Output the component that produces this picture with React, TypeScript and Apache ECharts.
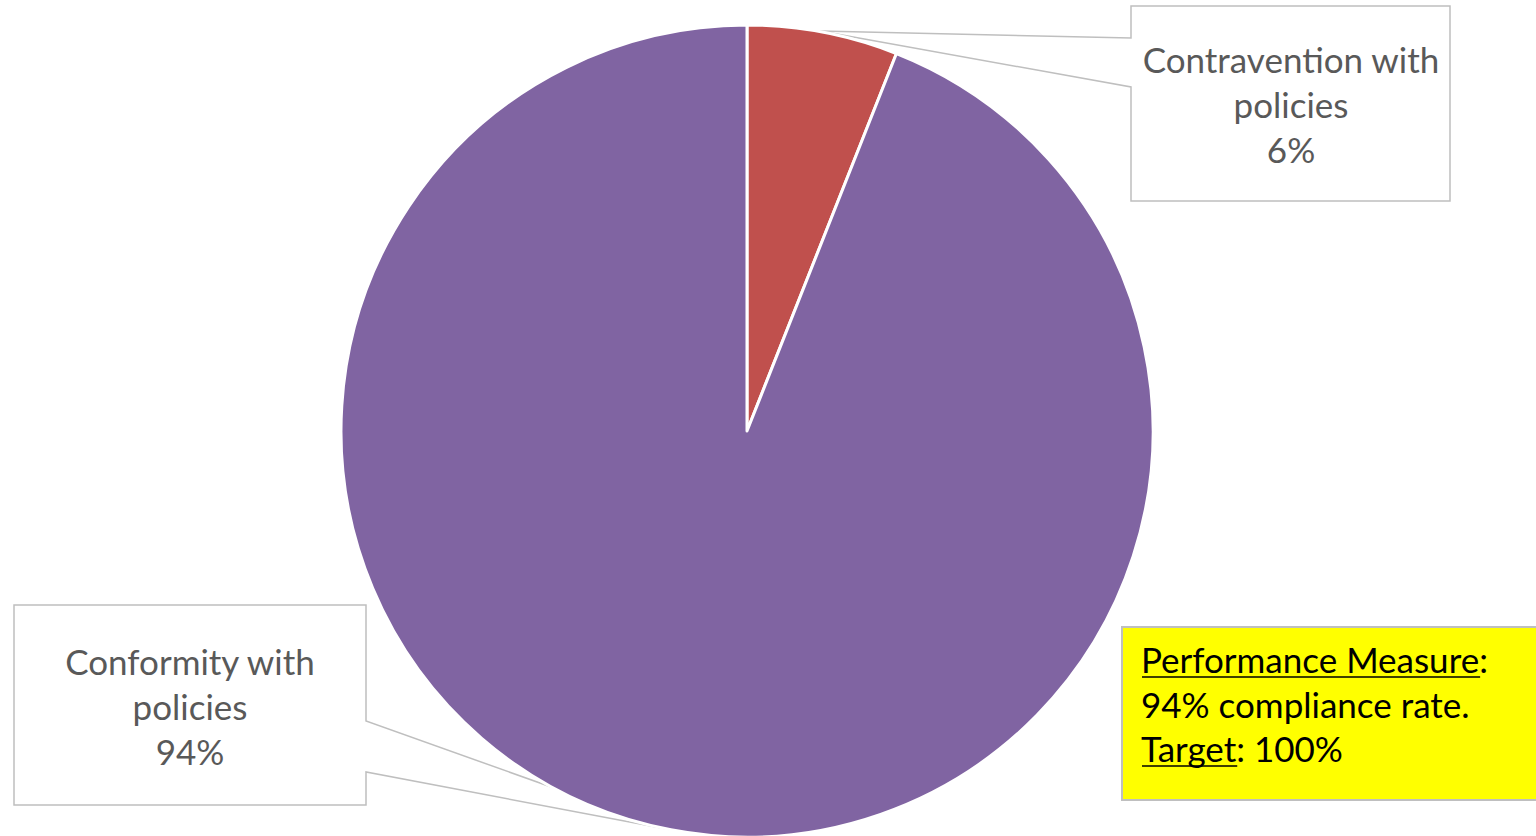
import React, { useEffect, useRef } from "react";
import * as echarts from "echarts";

const categories = ["Contravention with policies", "Conformity with policies"];
const values = [6, 94];
const colors = ["#C0504D", "#8064A2"];
const noteLines = ["Performance Measure", "94% compliance rate.", "Target"];

const FONT = "Lato, 'Noto Sans', sans-serif";

function measure(text: string, size: number): number {
  const c = document.createElement("canvas").getContext("2d");
  if (!c) return text.length * size * 0.5;
  c.font = `${size}px Lato`;
  return c.measureText(text).width;
}

export default function App() {
  const ref = useRef<HTMLDivElement>(null);
  useEffect(() => {
    if (!ref.current) return;
    const chart = echarts.init(ref.current, undefined, { renderer: "svg" });
    const fs = 35;
    const w1 = measure(noteLines[0], fs);
    const w3 = measure(noteLines[2], fs);
    const labelPos = [
      { x: 1291, y: 104 },
      { x: 190, y: 706 },
    ];
    chart.setOption({
      animation: false,
      graphic: [
        {
          type: "polygon",
          z: 0,
          shape: {
            points: [
              [1131, 6], [1450, 6], [1450, 201], [1131, 201], [1131, 87], [820, 31], [1131, 38],
            ],
          },
          style: { fill: "#ffffff", stroke: "#BFBFBF", lineWidth: 1.5 },
        },
        {
          type: "polygon",
          z: 0,
          shape: {
            points: [
              [14, 605], [366, 605], [366, 721], [672, 830], [366, 772], [366, 805], [14, 805],
            ],
          },
          style: { fill: "#ffffff", stroke: "#BFBFBF", lineWidth: 1.5 },
        },
        {
          type: "rect",
          z: 0,
          shape: { x: 1122, y: 627, width: 430, height: 173 },
          style: { fill: "#FFFF00", stroke: "#BFBFBF", lineWidth: 2 },
        },
        {
          type: "text",
          z: 10,
          style: {
            text: noteLines[0] + ":\n" + noteLines[1] + "\n" + noteLines[2] + ": 100%",
            x: 1141,
            y: 637,
            font: `${fs}px ${FONT}`,
            lineHeight: 44.5,
            fill: "#000000",
          },
        },
        {
          type: "line",
          z: 10,
          shape: { x1: 1142, y1: 677, x2: 1142 + w1, y2: 677 },
          style: { stroke: "#000000", lineWidth: 1.6 },
        },
        {
          type: "line",
          z: 10,
          shape: { x1: 1142, y1: 766, x2: 1142 + w3, y2: 766 },
          style: { stroke: "#000000", lineWidth: 1.6 },
        },
      ],
      series: [
        {
          type: "pie",
          z: 2,
          center: [747, 431],
          radius: [0, 406],
          startAngle: 90,
          clockwise: true,
          itemStyle: { borderColor: "#ffffff", borderWidth: 3 },
          label: {
            show: true,
            color: "#595959",
            fontFamily: FONT,
            fontSize: 35,
            lineHeight: 45,
            align: "center",
            formatter: (p: any) => p.name.replace(" with ", " with\n") + "\n" + Math.round(p.percent) + "%",
          },
          labelLine: { show: false },
          labelLayout: (params: any) => {
            const pos = labelPos[params.dataIndex];
            return { x: pos.x, y: pos.y, align: "center", verticalAlign: "middle" };
          },
          emphasis: { disabled: true },
          data: categories.map((name, i) => ({
            name,
            value: values[i],
            itemStyle: { color: colors[i] },
          })),
        },
      ],
    });
    return () => chart.dispose();
  }, []);
  return (
    <div
      ref={ref}
      style={{ position: "fixed", left: 0, top: 0, width: 1536, height: 836, background: "#fff" }}
    />
  );
}
